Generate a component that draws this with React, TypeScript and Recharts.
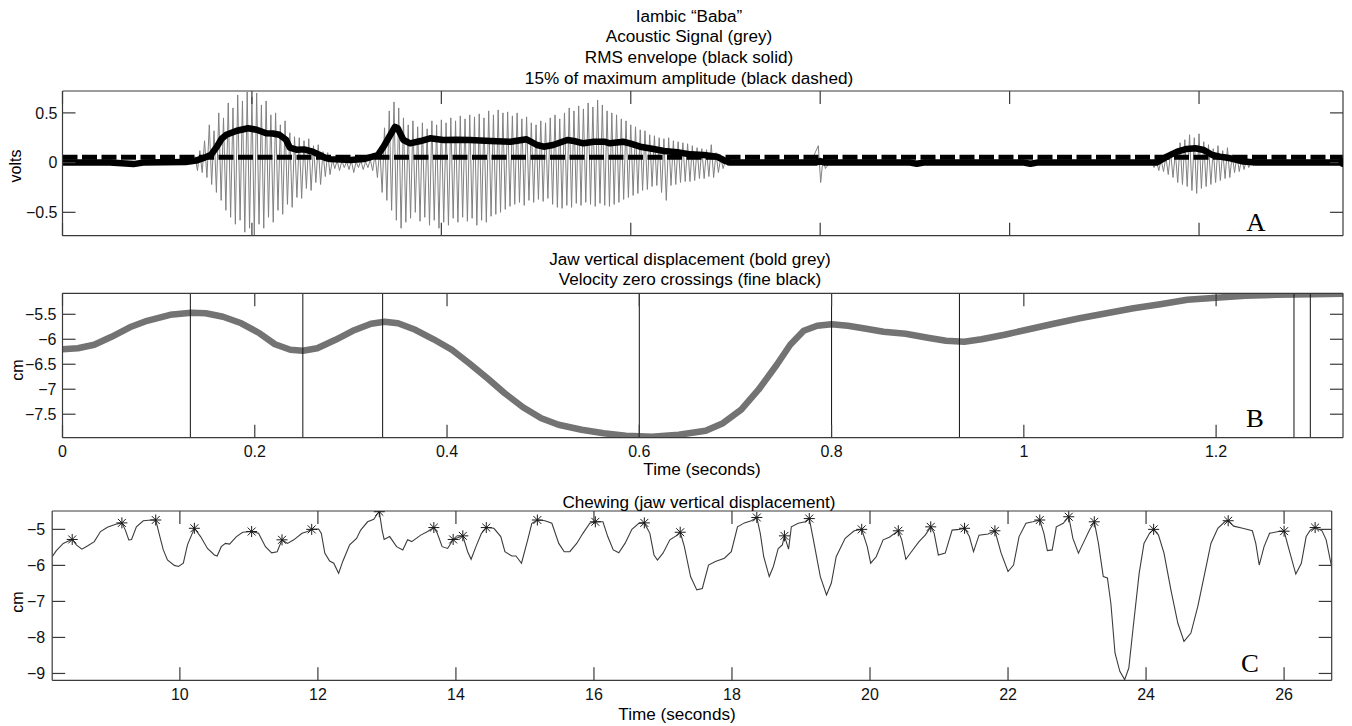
import React from 'react';
import { ComposedChart, Line, XAxis, YAxis, Scatter, ReferenceLine } from 'recharts';

// ---------- Panel A : acoustic signal, RMS envelope, threshold ----------
const A_X_DOMAIN: [number, number] = [0, 1.352];
const A_Y_DOMAIN: [number, number] = [-0.735, 0.72];
const A_X_TICKS = [0, 0.2, 0.4, 0.6, 0.8, 1, 1.2];
const A_Y_TICKS = [-0.5, 0, 0.5];
const A_THRESHOLD = 0.055;

// silent stretches of the waveform [t, value]
const A_QUIET: [number, number][] = [
  [0, 0], [0.138, 0], [0.703, 0], [0.79, 0], [0.81, 0], [1.145, 0], [1.265, 0], [1.352, 0],
];
// voiced waveform: [t, positive peak, negative peak]
const A_BURST1: [number, number, number][] = [
  [0.140, 0.06, -0.08], [0.145, 0.12, -0.10], [0.150, 0.22, -0.15], [0.155, 0.38, -0.22],
  [0.160, 0.32, -0.30], [0.165, 0.50, -0.38], [0.170, 0.45, -0.48], [0.175, 0.60, -0.55],
  [0.180, 0.55, -0.62], [0.185, 0.68, -0.58], [0.190, 0.62, -0.70], [0.195, 0.71, -0.66],
  [0.200, 0.66, -0.73], [0.205, 0.70, -0.62], [0.210, 0.58, -0.66], [0.215, 0.62, -0.55],
  [0.220, 0.48, -0.60], [0.225, 0.50, -0.48], [0.230, 0.38, -0.52], [0.235, 0.42, -0.42],
  [0.240, 0.30, -0.45], [0.245, 0.26, -0.35], [0.250, 0.25, -0.36], [0.255, 0.22, -0.26],
  [0.260, 0.24, -0.28], [0.265, 0.17, -0.20], [0.270, 0.18, -0.22], [0.275, 0.11, -0.14],
  [0.280, 0.10, -0.12], [0.285, 0.03, -0.06], [0.290, 0.02, -0.08], [0.295, 0.02, -0.05],
  [0.300, 0.01, -0.07], [0.305, 0.02, -0.10], [0.310, 0.01, -0.05], [0.315, 0.02, -0.07],
  [0.320, 0.01, -0.05], [0.325, 0.03, -0.08], [0.330, 0.08, -0.15], [0.335, 0.15, -0.30],
  [0.340, 0.35, -0.38], [0.345, 0.52, -0.48], [0.350, 0.61, -0.58], [0.355, 0.55, -0.66],
  [0.360, 0.45, -0.60], [0.365, 0.38, -0.56], [0.370, 0.42, -0.50], [0.375, 0.36, -0.59],
  [0.380, 0.40, -0.55], [0.385, 0.34, -0.63], [0.390, 0.42, -0.58], [0.395, 0.38, -0.66],
  [0.400, 0.43, -0.60], [0.405, 0.40, -0.63], [0.410, 0.45, -0.56], [0.415, 0.42, -0.60],
  [0.420, 0.47, -0.55], [0.425, 0.44, -0.59], [0.430, 0.48, -0.56], [0.435, 0.46, -0.63],
  [0.440, 0.49, -0.58], [0.445, 0.45, -0.60], [0.450, 0.52, -0.54], [0.455, 0.48, -0.52],
  [0.460, 0.53, -0.50], [0.465, 0.50, -0.47], [0.470, 0.51, -0.44], [0.475, 0.47, -0.42],
  [0.480, 0.50, -0.40], [0.485, 0.44, -0.43], [0.490, 0.46, -0.38], [0.495, 0.40, -0.40],
  [0.500, 0.38, -0.37], [0.505, 0.42, -0.39], [0.510, 0.40, -0.36], [0.515, 0.45, -0.42],
  [0.520, 0.48, -0.45], [0.525, 0.44, -0.46], [0.530, 0.50, -0.43], [0.535, 0.55, -0.45],
  [0.540, 0.52, -0.41], [0.545, 0.57, -0.43], [0.550, 0.54, -0.40], [0.555, 0.60, -0.42],
  [0.560, 0.56, -0.44], [0.565, 0.63, -0.41], [0.570, 0.58, -0.43], [0.575, 0.52, -0.44],
  [0.580, 0.50, -0.42], [0.585, 0.48, -0.40], [0.590, 0.44, -0.37], [0.595, 0.42, -0.35],
  [0.600, 0.38, -0.33], [0.605, 0.36, -0.31], [0.610, 0.33, -0.28], [0.615, 0.32, -0.27],
  [0.620, 0.28, -0.24], [0.625, 0.27, -0.23], [0.630, 0.25, -0.30], [0.635, 0.24, -0.38],
  [0.640, 0.25, -0.23], [0.645, 0.22, -0.22], [0.650, 0.21, -0.20], [0.655, 0.20, -0.19],
  [0.660, 0.19, -0.19], [0.665, 0.17, -0.18], [0.670, 0.15, -0.16], [0.675, 0.14, -0.16],
  [0.680, 0.13, -0.14], [0.685, 0.18, -0.15], [0.690, 0.10, -0.10], [0.695, 0.05, -0.06],
  [0.700, 0.02, -0.03],
];
const A_CLICK: [number, number, number][] = [
  [0.798, 0.17, -0.2], [0.803, 0.04, -0.06],
];
const A_BURST2: [number, number, number][] = [
  [1.150, 0.01, -0.05], [1.155, 0.02, -0.08], [1.160, 0.03, -0.09], [1.165, 0.06, -0.12],
  [1.170, 0.11, -0.15], [1.175, 0.10, -0.20], [1.180, 0.20, -0.22], [1.185, 0.23, -0.24],
  [1.190, 0.28, -0.28], [1.195, 0.25, -0.31], [1.200, 0.29, -0.26], [1.205, 0.21, -0.24],
  [1.210, 0.18, -0.22], [1.215, 0.14, -0.20], [1.220, 0.17, -0.18], [1.225, 0.12, -0.16],
  [1.230, 0.15, -0.15], [1.235, 0.08, -0.10], [1.240, 0.07, -0.09], [1.245, 0.05, -0.07],
  [1.250, 0.03, -0.05], [1.255, 0.02, -0.03], [1.260, 0.01, -0.02],
];
// RMS envelope [t, volts]
const A_RMS: [number, number][] = [
  [0, 0], [0.05, 0], [0.075, -0.015], [0.085, 0], [0.13, 0.005], [0.141, 0.02], [0.150, 0.05],
  [0.157, 0.08], [0.163, 0.16], [0.168, 0.24], [0.173, 0.28], [0.184, 0.32], [0.196, 0.345],
  [0.205, 0.33], [0.215, 0.295], [0.222, 0.293], [0.229, 0.28], [0.236, 0.23], [0.240, 0.15],
  [0.247, 0.13], [0.255, 0.133], [0.264, 0.11], [0.271, 0.08], [0.278, 0.045], [0.283, 0.035],
  [0.304, 0.026], [0.318, 0.036], [0.333, 0.076], [0.339, 0.16], [0.346, 0.277], [0.351, 0.36],
  [0.354, 0.344], [0.360, 0.227], [0.367, 0.194], [0.378, 0.217], [0.388, 0.244], [0.402, 0.227],
  [0.416, 0.23], [0.430, 0.227], [0.452, 0.217], [0.473, 0.21], [0.490, 0.234], [0.501, 0.177],
  [0.508, 0.16], [0.518, 0.177], [0.533, 0.227], [0.540, 0.217], [0.550, 0.194], [0.561, 0.21],
  [0.572, 0.21], [0.578, 0.194], [0.592, 0.21], [0.599, 0.194], [0.610, 0.16], [0.624, 0.137],
  [0.635, 0.117], [0.649, 0.104], [0.663, 0.083], [0.677, 0.076], [0.691, 0.06], [0.700, 0.016],
  [0.705, 0], [0.795, 0], [0.80, 0.015], [0.805, 0], [0.895, 0], [0.902, -0.012], [0.909, 0],
  [1.015, 0], [1.022, -0.012], [1.029, 0], [1.155, 0], [1.166, 0.06], [1.177, 0.11],
  [1.187, 0.137], [1.196, 0.144], [1.205, 0.127], [1.214, 0.076], [1.222, 0.06], [1.233, 0.043],
  [1.247, 0.01], [1.26, 0], [1.352, 0],
];

// ---------- Panel B : jaw displacement ----------
const B_X_DOMAIN: [number, number] = [0, 1.332];
const B_Y_DOMAIN: [number, number] = [-7.97, -5.08];
const B_X_TICKS = [0, 0.2, 0.4, 0.6, 0.8, 1, 1.2];
const B_Y_TICKS = [-7.5, -7, -6.5, -6, -5.5];
const B_JAW: [number, number][] = [
  [0, -6.2], [0.016, -6.18], [0.033, -6.11], [0.051, -5.95], [0.07, -5.76], [0.088, -5.63],
  [0.112, -5.51], [0.134, -5.47], [0.149, -5.48], [0.167, -5.55], [0.186, -5.68], [0.205, -5.88],
  [0.221, -6.1], [0.237, -6.21], [0.25, -6.23], [0.265, -6.18], [0.284, -6.01], [0.302, -5.83],
  [0.321, -5.69], [0.335, -5.65], [0.349, -5.68], [0.367, -5.81], [0.386, -6.0], [0.405, -6.21],
  [0.423, -6.48], [0.442, -6.78], [0.46, -7.08], [0.479, -7.36], [0.498, -7.58], [0.516, -7.71],
  [0.54, -7.81], [0.563, -7.88], [0.586, -7.93], [0.6, -7.94], [0.613, -7.95], [0.641, -7.91],
  [0.669, -7.83], [0.687, -7.68], [0.706, -7.41], [0.724, -7.01], [0.743, -6.51], [0.757, -6.11],
  [0.771, -5.83], [0.785, -5.73], [0.8, -5.7], [0.817, -5.73], [0.836, -5.79], [0.854, -5.85],
  [0.877, -5.89], [0.9, -5.97], [0.919, -6.03], [0.938, -6.05], [0.956, -6.0], [0.98, -5.91],
  [1.003, -5.81], [1.031, -5.69], [1.058, -5.58], [1.086, -5.48], [1.114, -5.38], [1.142, -5.3],
  [1.17, -5.21], [1.2, -5.17], [1.23, -5.13], [1.262, -5.11], [1.3, -5.1], [1.332, -5.09],
];
const B_ZERO_CROSSINGS = [0.133, 0.25, 0.333, 0.6, 0.8, 0.933, 1.281, 1.298];

// ---------- Panel C : chewing ----------
const C_X_DOMAIN: [number, number] = [8.15, 26.69];
const C_Y_DOMAIN: [number, number] = [-9.19, -4.49];
const C_X_TICKS = [10, 12, 14, 16, 18, 20, 22, 24, 26];
const C_Y_TICKS = [-9, -8, -7, -6, -5];
const C_JAW: [number, number][] = [
  [8.15, -5.76], [8.21, -5.59], [8.31, -5.39], [8.37, -5.34], [8.44, -5.28], [8.5, -5.43],
  [8.58, -5.55], [8.66, -5.46], [8.76, -5.34], [8.85, -5.06], [8.95, -4.94], [9.07, -4.86],
  [9.16, -4.82], [9.21, -5.02], [9.26, -5.29], [9.3, -5.28], [9.37, -4.93], [9.47, -4.76],
  [9.59, -4.74], [9.65, -4.74], [9.71, -5.2], [9.76, -5.57], [9.82, -5.85], [9.92, -6.0],
  [9.98, -6.03], [10.05, -5.94], [10.11, -5.43], [10.21, -4.97], [10.3, -5.2], [10.4, -5.53],
  [10.5, -5.71], [10.54, -5.74], [10.6, -5.48], [10.66, -5.39], [10.72, -5.41], [10.82, -5.2],
  [10.91, -5.08], [11.04, -5.06], [11.14, -5.11], [11.24, -5.48], [11.33, -5.65], [11.41, -5.62],
  [11.48, -5.29], [11.56, -5.39], [11.65, -5.29], [11.77, -5.11], [11.85, -5.06], [11.91, -5.0],
  [12.01, -4.99], [12.05, -5.11], [12.1, -5.66], [12.17, -5.88], [12.23, -5.94], [12.3, -6.22],
  [12.36, -5.89], [12.46, -5.43], [12.56, -5.25], [12.62, -5.02], [12.72, -4.79], [12.81, -4.72],
  [12.85, -4.6], [12.89, -4.51], [12.93, -5.02], [12.96, -5.28], [13.04, -5.2], [13.14, -5.48],
  [13.23, -5.57], [13.3, -5.29], [13.36, -5.34], [13.49, -5.16], [13.59, -5.06], [13.68, -4.95],
  [13.73, -5.11], [13.8, -5.48], [13.88, -5.53], [13.96, -5.28], [14.04, -5.22], [14.1, -5.18],
  [14.17, -5.62], [14.22, -5.83], [14.29, -5.48], [14.37, -5.11], [14.44, -4.95], [14.55, -4.97],
  [14.65, -5.2], [14.71, -5.62], [14.81, -5.74], [14.87, -5.74], [14.95, -5.94], [15.04, -5.29],
  [15.1, -4.83], [15.18, -4.74], [15.29, -4.76], [15.39, -4.83], [15.49, -5.39], [15.57, -5.62],
  [15.65, -5.62], [15.75, -5.39], [15.84, -5.11], [15.94, -4.83], [16.02, -4.79], [16.13, -4.79],
  [16.2, -5.2], [16.28, -5.57], [16.36, -5.65], [16.45, -5.39], [16.55, -5.0], [16.65, -4.83],
  [16.73, -4.82], [16.81, -5.11], [16.87, -5.71], [16.92, -5.85], [17.0, -5.66], [17.1, -5.29],
  [17.19, -5.18], [17.25, -5.08], [17.31, -5.48], [17.4, -6.31], [17.49, -6.68], [17.57, -6.64],
  [17.66, -5.99], [17.76, -5.89], [17.89, -5.8], [17.99, -5.62], [18.08, -4.93], [18.18, -4.82],
  [18.28, -4.76], [18.36, -4.67], [18.41, -5.11], [18.46, -5.76], [18.54, -6.31], [18.6, -6.03],
  [18.67, -5.53], [18.73, -5.43], [18.76, -5.18], [18.82, -5.55], [18.86, -4.93], [18.96, -4.83],
  [19.06, -4.79], [19.12, -4.7], [19.18, -5.29], [19.28, -6.31], [19.37, -6.82], [19.44, -6.49],
  [19.51, -5.76], [19.64, -5.25], [19.77, -5.04], [19.88, -5.0], [19.96, -5.48], [20.01, -5.94],
  [20.09, -5.76], [20.19, -5.29], [20.28, -5.22], [20.41, -5.04], [20.46, -5.29], [20.52, -5.83],
  [20.6, -5.62], [20.71, -5.34], [20.8, -5.16], [20.88, -4.93], [20.93, -5.11], [20.99, -5.71],
  [21.09, -5.66], [21.19, -5.02], [21.29, -5.0], [21.37, -4.97], [21.44, -5.2], [21.5, -5.62],
  [21.58, -5.16], [21.71, -5.13], [21.81, -5.04], [21.9, -5.66], [22.0, -6.17], [22.08, -5.99],
  [22.16, -5.2], [22.26, -4.83], [22.36, -4.79], [22.46, -4.74], [22.52, -5.11], [22.57, -5.59],
  [22.64, -5.57], [22.7, -4.93], [22.8, -4.83], [22.88, -4.65], [22.94, -5.25], [23.02, -5.66],
  [23.1, -5.34], [23.18, -5.02], [23.25, -4.79], [23.31, -5.39], [23.38, -6.31], [23.44, -6.35],
  [23.49, -7.05], [23.55, -8.43], [23.62, -8.94], [23.69, -9.17], [23.75, -8.85], [23.81, -7.78],
  [23.9, -6.22], [23.97, -5.39], [24.05, -5.11], [24.11, -5.0], [24.18, -5.16], [24.26, -5.66],
  [24.36, -6.68], [24.46, -7.6], [24.55, -8.11], [24.65, -7.88], [24.75, -7.14], [24.85, -6.22],
  [24.94, -5.39], [25.04, -4.97], [25.14, -4.79], [25.19, -4.76], [25.27, -4.91], [25.4, -4.97],
  [25.54, -5.04], [25.59, -5.39], [25.64, -5.99], [25.71, -5.48], [25.79, -5.11], [25.92, -5.06],
  [26.0, -5.05], [26.06, -5.48], [26.17, -6.24], [26.25, -5.94], [26.32, -5.2], [26.38, -5.02],
  [26.45, -4.95], [26.55, -5.04], [26.61, -5.29], [26.69, -6.05],
];
const C_PEAKS: [number, number][] = [
  [8.44, -5.28], [9.16, -4.82], [9.65, -4.74], [10.21, -4.97], [11.04, -5.06], [11.48, -5.29],
  [11.91, -5.0], [12.89, -4.51], [13.68, -4.95], [13.96, -5.28], [14.1, -5.18], [14.44, -4.95],
  [15.18, -4.74], [16.02, -4.79], [16.73, -4.82], [17.25, -5.08], [18.36, -4.67], [18.76, -5.18],
  [19.12, -4.7], [19.88, -5.0], [20.41, -5.04], [20.88, -4.93], [21.37, -4.97], [21.81, -5.04],
  [22.46, -4.74], [22.88, -4.65], [23.25, -4.79], [24.11, -5.0], [25.19, -4.76], [26.0, -5.05],
  [26.45, -4.95],
];

// ---------- helpers ----------
const FONT = '"Liberation Sans", Arial, sans-serif';
const SERIF = '"Liberation Serif", "Times New Roman", serif';
const AXIS = '#3a3a3a';
const pts = (rows: [number, number][]) => rows.map(([t, v]) => ({ t, v }));
const fmt = (v: number) => String(v).replace('-', '\u2212');

const acousticData = (() => {
  const out: { t: number; v: number }[] = [];
  A_QUIET.forEach(([t, v]) => out.push({ t, v }));
  [...A_BURST1, ...A_CLICK, ...A_BURST2].forEach(([t, hi, lo]) => {
    out.push({ t, v: hi });
    out.push({ t: t + 0.0025, v: lo });
  });
  return out.sort((a, b) => a.t - b.t);
})();
const thresholdData = [{ t: A_X_DOMAIN[0], v: A_THRESHOLD }, { t: A_X_DOMAIN[1], v: A_THRESHOLD }];
const rmsData = pts(A_RMS);

const lineStyle = { stroke: AXIS, strokeWidth: 1.2 };
const tickText = { fill: '#111', fontSize: 16, fontFamily: FONT };
const NoLabel = () => <g />;

function frameAxes(xd: [number, number], yd: [number, number], xt: number[], yt: number[]) {
  const common = {
    mirror: true, type: 'number' as const, allowDataOverflow: true, tick: NoLabel,
    tickSize: 13, axisLine: lineStyle, tickLine: lineStyle,
  };
  return [
    <XAxis key="fxb" xAxisId="fxb" orientation="bottom" dataKey="t" domain={xd} ticks={xt} {...common} />,
    <XAxis key="fxt" xAxisId="fxt" orientation="top" dataKey="t" domain={xd} ticks={xt} {...common} />,
    <YAxis key="fyl" yAxisId="fyl" orientation="left" dataKey="v" domain={yd} ticks={yt} {...common} />,
    <YAxis key="fyr" yAxisId="fyr" orientation="right" dataKey="v" domain={yd} ticks={yt} {...common} />,
  ];
}

const Asterisk = (props: any) => {
  const { cx, cy } = props;
  if (cx == null || cy == null) return <g />;
  const r = 5.5;
  const d = r * 0.72;
  return (
    <g stroke="#1a1a1a" strokeWidth={1}>
      <line x1={cx - r} y1={cy} x2={cx + r} y2={cy} />
      <line x1={cx} y1={cy - r} x2={cx} y2={cy + r} />
      <line x1={cx - d} y1={cy - d} x2={cx + d} y2={cy + d} />
      <line x1={cx - d} y1={cy + d} x2={cx + d} y2={cy - d} />
    </g>
  );
};

const EndDot = (props: any) => {
  const { cx, cy, index } = props;
  if (index !== rmsData.length - 1) return <g key={`d${index}`} />;
  return <circle key={`d${index}`} cx={cx} cy={cy} r={4.5} fill="#000" />;
};

const Txt = ({ x, y, children, size = 16, family = FONT, rotate = false, sx = 1.07 }: any) => (
  <div
    style={{
      position: 'absolute', left: x, top: y, fontSize: size, fontFamily: family,
      lineHeight: `${size}px`, whiteSpace: 'nowrap', color: '#000',
      transform: `translate(-50%, -50%) ${rotate ? 'rotate(-90deg)' : `scaleX(${sx})`}`,
    }}
  >
    {children}
  </div>
);

export default function App() {
  return (
    <div style={{ position: 'absolute', left: 0, top: 0, width: 1352, height: 726, background: '#fff', overflow: 'hidden', fontFamily: FONT }}>
      {/* Panel A */}
      <div style={{ position: 'absolute', left: 0, top: 0 }}>
        <ComposedChart width={1352} height={250} margin={{ top: 91, right: 9, bottom: 14.3, left: 0 }}>
          {frameAxes(A_X_DOMAIN, A_Y_DOMAIN, A_X_TICKS, A_Y_TICKS)}
          <YAxis yAxisId="y" orientation="left" type="number" dataKey="v" width={62.5}
            domain={A_Y_DOMAIN} ticks={A_Y_TICKS} allowDataOverflow axisLine={false}
            tickLine={false} tickSize={0} tickMargin={5} tick={tickText} tickFormatter={fmt} />
          <Line xAxisId="fxb" yAxisId="y" data={acousticData} dataKey="v" stroke="#808080"
            strokeWidth={1} dot={false} isAnimationActive={false} type="linear" />
          <Line xAxisId="fxb" yAxisId="y" data={thresholdData} dataKey="v" stroke="#000"
            strokeWidth={5} strokeDasharray="15 4.5" dot={false} isAnimationActive={false} type="linear" />
          <Line xAxisId="fxb" yAxisId="y" data={rmsData} dataKey="v" stroke="#000"
            strokeWidth={6.5} strokeLinejoin="round" dot={EndDot} isAnimationActive={false} type="linear" />
        </ComposedChart>
      </div>

      {/* Panel B */}
      <div style={{ position: 'absolute', left: 0, top: 250 }}>
        <ComposedChart width={1352} height={230} margin={{ top: 43.3, right: 9, bottom: 12.3, left: 0 }}>
          {frameAxes(B_X_DOMAIN, B_Y_DOMAIN, B_X_TICKS, B_Y_TICKS)}
          <XAxis xAxisId="x" orientation="bottom" type="number" dataKey="t" height={30}
            domain={B_X_DOMAIN} ticks={B_X_TICKS} allowDataOverflow axisLine={false}
            tickLine={false} tickSize={0} tickMargin={8} tick={tickText} />
          <YAxis yAxisId="y" orientation="left" type="number" dataKey="v" width={62.5}
            domain={B_Y_DOMAIN} ticks={B_Y_TICKS} allowDataOverflow axisLine={false}
            tickLine={false} tickSize={0} tickMargin={6} tick={tickText} tickFormatter={fmt} />
          <Line xAxisId="x" yAxisId="y" data={pts(B_JAW)} dataKey="v" stroke="#737373"
            strokeWidth={6.5} strokeLinejoin="round" dot={false} isAnimationActive={false} type="linear" />
          {B_ZERO_CROSSINGS.map((t) => (
            <ReferenceLine key={t} xAxisId="x" yAxisId="y" x={t} stroke="#111" strokeWidth={1} />
          ))}
        </ComposedChart>
      </div>

      {/* Panel C */}
      <div style={{ position: 'absolute', left: 0, top: 480 }}>
        <ComposedChart width={1352} height={246} margin={{ top: 31, right: 20.3, bottom: 15.7, left: 0 }}>
          {frameAxes(C_X_DOMAIN, C_Y_DOMAIN, C_X_TICKS, C_Y_TICKS)}
          <XAxis xAxisId="x" orientation="bottom" type="number" dataKey="t" height={30}
            domain={C_X_DOMAIN} ticks={C_X_TICKS} allowDataOverflow axisLine={false}
            tickLine={false} tickSize={0} tickMargin={8.5} tick={tickText} />
          <YAxis yAxisId="y" orientation="left" type="number" dataKey="v" width={52.2}
            domain={C_Y_DOMAIN} ticks={C_Y_TICKS} allowDataOverflow axisLine={false}
            tickLine={false} tickSize={0} tickMargin={7} tick={tickText} tickFormatter={fmt} />
          <Line xAxisId="x" yAxisId="y" data={pts(C_JAW)} dataKey="v" stroke="#3c3c3c"
            strokeWidth={1.1} dot={false} isAnimationActive={false} type="linear" />
          <Scatter xAxisId="x" yAxisId="y" data={pts(C_PEAKS)} dataKey="v" shape={Asterisk}
            isAnimationActive={false} />
        </ComposedChart>
      </div>

      {/* titles & labels */}
      <Txt x={689} y={16.5}>Iambic “Baba”</Txt>
      <Txt x={689} y={37}>Acoustic Signal (grey)</Txt>
      <Txt x={689} y={58}>RMS envelope (black solid)</Txt>
      <Txt x={689} y={78.5}>15% of maximum amplitude (black dashed)</Txt>
      <Txt x={16} y={165.5} rotate>volts</Txt>
      <Txt x={1256} y={221.7} size={25} family={SERIF}>A</Txt>

      <Txt x={690} y={260}>Jaw vertical displacement (bold grey)</Txt>
      <Txt x={690} y={280}>Velocity zero crossings (fine black)</Txt>
      <Txt x={18} y={370} rotate>cm</Txt>
      <Txt x={1255} y={418} size={25} family={SERIF}>B</Txt>
      <Txt x={702} y={470}>Time (seconds)</Txt>

      <Txt x={699} y={502.7}>Chewing (jaw vertical displacement)</Txt>
      <Txt x={18} y={602} rotate>cm</Txt>
      <Txt x={1250} y={663} size={25} family={SERIF}>C</Txt>
      <Txt x={677} y={715}>Time (seconds)</Txt>
    </div>
  );
}
